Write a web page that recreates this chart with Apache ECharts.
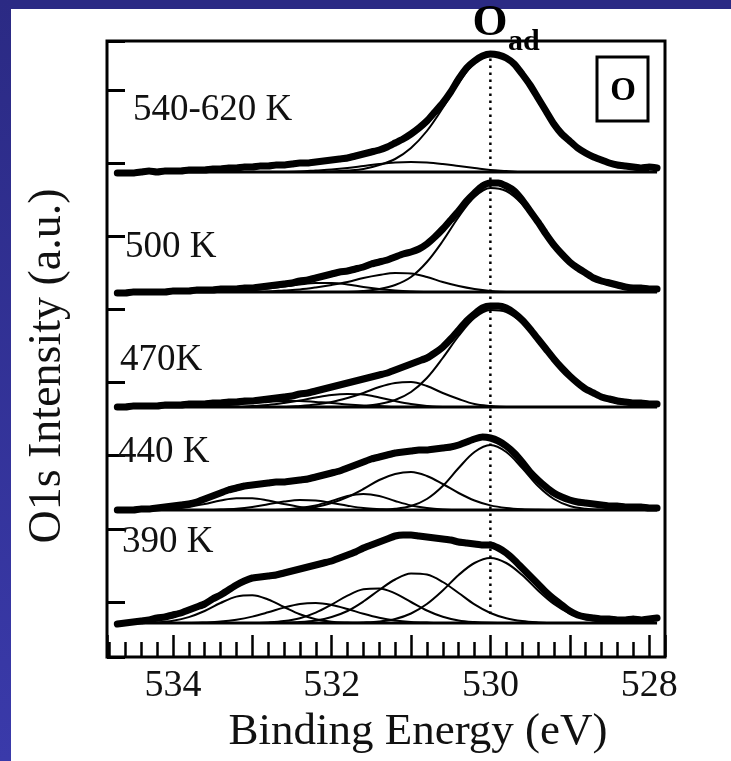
<!DOCTYPE html>
<html>
<head>
<meta charset="utf-8">
<script src="https://cdn.jsdelivr.net/npm/echarts@6/dist/echarts.min.js"></script>
<style>html,body{margin:0;padding:0;background:#fff}#chart{width:731px;height:761px}</style>
</head>
<body>
<div id="chart"></div>
<script>
// Binding energies of the measured spectra (eV)
const dataEnergy = [527.9,528.0,528.1,528.2,528.3,528.4,528.5,528.6,528.7,528.8,
  528.9,529.0,529.1,529.2,529.3,529.4,529.5,529.6,529.7,529.8,
  529.9,530.0,530.1,530.2,530.3,530.4,530.5,530.6,530.7,530.8,
  530.9,531.0,531.1,531.2,531.3,531.4,531.5,531.6,531.7,531.8,
  531.9,532.0,532.1,532.2,532.3,532.4,532.5,532.6,532.7,532.8,
  532.9,533.0,533.1,533.2,533.3,533.4,533.5,533.6,533.7,533.8,
  533.9,534.0,534.1,534.2,534.3,534.4,534.5,534.6,534.7];
// Energies of the fitted components (eV)
const fitEnergy = [528.0,528.2,528.4,528.6,528.8,529.0,529.2,529.4,529.6,529.8,
  530.0,530.2,530.4,530.6,530.8,531.0,531.2,531.4,531.6,531.8,
  532.0,532.2,532.4,532.6,532.8,533.0,533.2,533.4,533.6,533.8,
  534.0,534.2,534.4];
const baselineEnergy = [527.9, 534.7];

// Temperatures (labels) and vertical offsets of each stacked spectrum (a.u.)
const tempLabels = ['390 K', '440 K', '470K', '500 K', '540-620 K'];
const offsets = [-21, 92, 195, 310, 430];

// Measured O1s intensity above each baseline (a.u.)
const data390 = [5,4,3,4,3,3,4,4,5,6, 8,12,18,24,31,39,47,55,63,70, 75,78,78,79,80,81,83,84,85,86,
  87,88,88,87,84,81,78,75,71,68, 65,62,60,58,56,54,52,50,48,47, 46,45,42,38,33,28,24,19,16,13, 10,8,6,5,3,2,1,0,-1];
const data440 = [2,2,3,3,3,4,4,5,6,7, 8,10,13,17,23,30,38,48,57,64, 69,72,73,71,68,65,63,62,61,60,
  60,59,58,57,55,53,51,48,45,42, 39,37,35,33,31,30,29,28,28,27, 26,25,24,22,20,17,14,11,8,6, 5,4,3,2,1,1,0,0,0];
const data470 = [3,3,4,4,5,6,8,10,14,18, 24,31,39,48,58,68,78,87,94,99, 101,101,99,93,86,77,68,60,54,49,
  46,43,40,37,34,32,30,28,26,24, 22,20,18,16,14,13,11,10,9,8, 7,6,6,5,5,4,4,3,3,3, 2,2,2,1,1,1,1,0,0];
const data500 = [3,3,4,4,5,7,9,11,14,19, 24,30,38,47,58,70,81,92,101,106, 109,109,106,99,91,81,72,63,55,48,
  43,40,38,35,32,30,28,25,23,21, 20,18,16,14,12,11,9,8,7,6, 5,4,4,3,3,3,2,2,2,1, 1,1,0,0,0,0,0,-1,-1];
const data540 = [4,5,4,5,6,7,9,12,15,19, 24,31,38,48,61,74,87,98,108,114, 117,118,116,111,104,93,80,69,60,51,
  44,38,33,29,25,22,20,18,16,14, 13,12,11,10,9,9,8,7,7,6, 6,5,5,4,4,3,3,2,2,2, 1,1,1,0,1,0,-1,-1,-1];

// Fitted components (a.u.) on fitEnergy
const fit390 = [
  [0,0,0.5,1.5,4,9.5,19,32.5,48,60,65,60,48,32.5,19,9.5,4,1.5,0.5,0,0,0,0,0,0,0,0,0,0,0,0,0,0],
  [0,0,0,0,0,0,0,0.6,1.9,4.7,10,18.6,30,41,48.4,49.5,43.5,33,21.5,12,6,2.5,0.9,0.3,0,0,0,0,0,0,0,0,0],
  [0,0,0,0,0,0,0,0,0,0,0.2,0.9,2.5,6.2,12.5,21,29.6,34.6,33.7,27.4,18.4,10.3,4.8,1.9,0.6,0,0,0,0,0,0,0,0],
  [0,0,0,0,0,0,0,0,0,0,0,0,0,0,0.4,1.1,2.6,5.3,9.3,14,18,20,19,15.4,10.7,6.4,3.3,1.4,0.5,0,0,0,0],
  [0,0,0,0,0,0,0,0,0,0,0,0,0,0,0,0,0,0,0,0.4,1.3,3.8,8.7,16,23.5,27.8,26.4,20,12,5.9,2.3,0.7,0]
];
const fit440 = [
  [0,0,0,0.3,1.2,4,11,24,42,58,65,58,42,24,11,4,1.2,0.3,0,0,0,0,0,0,0,0,0,0,0,0,0,0,0],
  [0,0,0,0,0,0,0,0.2,0.7,2,4.6,9.5,17,26,34,38,36,30,21,13,7,3,1,0,0,0,0,0,0,0,0,0,0],
  [0,0,0,0,0,0,0,0,0,0,0,0,0,0.6,2,4.6,9,14,16,14,9,4.6,2,0.6,0,0,0,0,0,0,0,0,0],
  [0,0,0,0,0,0,0,0,0,0,0,0,0,0,0,0,0,0.8,2,4.3,7,9.4,10,8.4,5.7,3,1.3,0.5,0,0,0,0,0],
  [0,0,0,0,0,0,0,0,0,0,0,0,0,0,0,0,0,0,0,0,0.4,1.3,3.1,6,9.4,11.7,11.7,9.4,6,3.1,1.3,0.4,0]
];
const fit470 = [
  [1,2,5,9,17,29,46,66,84,95,97,89,71,49,29,15,7,3,1,0,0,0,0,0,0,0,0,0,0,0,0,0,0],
  [0,0,0,0,0,0,0,0,0,0,1,3,8,14,21,25,24,20,14,9,5,2.5,1,0,0,0,0,0,0,0,0,0,0],
  [0,0,0,0,0,0,0,0,0,0,0,0,0,0,1,3,6,9.5,12.5,13,12,9.5,6.5,4,2,1,0,0,0,0,0,0,0],
  [0,0,0,0,0,0,0,0,0,0,0,0,0,0,0,0,0,1,1.5,2.5,4,5,6,6,5,4,2.5,1.5,0.8,0.3,0,0,0]
];
const fit500 = [
  [1,3,6,10,18,29,45,67,88,101,104,95,75,51,30,15,7,3,1,0,0,0,0,0,0,0,0,0,0,0,0,0,0],
  [0,0,0,0,0,0,0,0,0,0,1,3,6,10,15,18.5,19,17,14,10,7,4.5,2.5,1.5,0.5,0,0,0,0,0,0,0,0],
  [0,0,0,0,0,0,0,0,0,0,0,0,0,0,0,0.5,1.5,3,5,7.5,9,9,7.5,5.5,3.5,2,1,0.5,0,0,0,0,0]
];
const fit540 = [
  [1,3,6,11,19,30,48,73,97,113,117,109,89,64,41,24,13,7,3,1.5,0.5,0,0,0,0,0,0,0,0,0,0,0,0],
  [0,0,0,0,0,0,0,0,0,1,2,4,6,8,9.5,10,9.5,8,6,4,2.5,1.5,0.5,0,0,0,0,0,0,0,0,0,0]
];

const measured = [data390, data440, data470, data500, data540];
const fitted = [fit390, fit440, fit470, fit500, fit540];

// O_ad reference energy and extent of its dotted guide (a.u.)
const oadEnergy = 530.0;
const oadRange = [-12, 548];

// x-axis tick labels shown
const xTickLabels = [528, 530, 532, 534];

const serif = '"Liberation Serif", "Times New Roman", serif';
const series = [];
fitted.forEach((comps, s) => {
  const off = offsets[s];
  series.push({
    type: 'line', silent: true, showSymbol: false, z: 3,
    data: baselineEnergy.map(e => [e, off]),
    lineStyle: {color: '#000', width: 3}
  });
  comps.forEach(c => {
    series.push({
      type: 'line', silent: true, showSymbol: false, smooth: 0.35, z: 3,
      data: fitEnergy.map((e, i) => [e, c[i] + off]),
      lineStyle: {color: '#000', width: 2}
    });
  });
});
measured.forEach((d, s) => {
  const off = offsets[s];
  series.push({
    type: 'line', silent: true, showSymbol: false, smooth: 0.2, z: 4,
    data: dataEnergy.map((e, i) => [e, d[i] + off]),
    lineStyle: {color: '#000', width: 7, cap: 'round', join: 'round'}
  });
});
series.push({
  type: 'line', silent: true, showSymbol: false, z: 2,
  data: oadRange.map(v => [oadEnergy, v]),
  lineStyle: {color: '#000', width: 2.5, type: [2.5, 4.5]}
});

// label placement (pixels) for the temperature captions
const labelPos = [[122, 542], [118, 452], [120, 360], [125, 247], [133, 110]];

const graphics = [
  {type: 'rect', shape: {x: 0, y: 0, width: 731, height: 9}, style: {fill: '#2b2a84'}, z: 10},
  {type: 'rect', shape: {x: 0, y: 0, width: 11, height: 761},
   style: {fill: {type: 'linear', x: 0, y: 0, x2: 0, y2: 1,
     colorStops: [{offset: 0, color: '#2b2a84'}, {offset: 1, color: '#3a3aaa'}]}}, z: 10},
  {type: 'rect', shape: {x: 597, y: 57, width: 51, height: 64}, style: {fill: '#fff', stroke: '#000', lineWidth: 3}, z: 10},
  {type: 'text', x: 623, y: 91, style: {text: 'O', font: 'bold 33px ' + serif, fill: '#000', align: 'center', verticalAlign: 'middle'}, z: 11},
  {type: 'text', x: 490, y: 23, style: {text: 'O', font: 'bold 45px ' + serif, fill: '#000', align: 'center', verticalAlign: 'middle'}, z: 11},
  {type: 'text', x: 508, y: 42, style: {text: 'ad', font: 'bold 30px ' + serif, fill: '#000', align: 'left', verticalAlign: 'middle'}, z: 11}
];
tempLabels.forEach((t, i) => {
  graphics.push({type: 'text', x: labelPos[i][0], y: labelPos[i][1],
    style: {text: t, font: '37px ' + serif, fill: '#111', align: 'left', verticalAlign: 'middle'}, z: 11});
});

const chart = echarts.init(document.getElementById('chart'), null, {renderer: 'canvas'});
chart.setOption({
  animation: false,
  backgroundColor: '#fff',
  grid: {left: 107, right: 66, top: 41, bottom: 104, show: true, borderColor: '#000', borderWidth: 3, containLabel: false},
  xAxis: {
    type: 'value', min: 527.8, max: 534.83, inverse: true, position: 'bottom',
    minInterval: 1, maxInterval: 1, splitNumber: 7,
    axisLine: {show: false, onZero: false},
    axisTick: {show: true, inside: true, length: 22, lineStyle: {color: '#000', width: 2.5}},
    minorTick: {show: true, splitNumber: 5, length: 15, lineStyle: {color: '#000', width: 2.5}},
    splitLine: {show: false}, minorSplitLine: {show: false},
    axisLabel: {
      margin: 10, fontFamily: serif, fontSize: 38, color: '#111',
      formatter: v => { const r = Math.round(v); return (Math.abs(v - r) < 1e-6 && xTickLabels.indexOf(r) >= 0) ? String(r) : ''; }
    },
    name: 'Binding Energy (eV)', nameLocation: 'middle', nameGap: 46,
    nameTextStyle: {fontFamily: serif, fontSize: 45, color: '#111', padding: [0, 0, 0, 64]}
  },
  yAxis: {
    type: 'value', min: -55, max: 561, minInterval: 73.14, maxInterval: 73.14, position: 'left',
    axisLine: {show: false, onZero: false},
    axisTick: {show: true, inside: true, length: 18, lineStyle: {color: '#000', width: 3}},
    axisLabel: {show: false},
    splitLine: {show: false},
    name: 'O1s Intensity (a.u.)', nameLocation: 'middle', nameRotate: 90, nameGap: 36,
    nameTextStyle: {fontFamily: serif, fontSize: 46, color: '#111', padding: [0, 34, 0, 0]}
  },
  graphic: graphics,
  series: series
});
</script>
</body>
</html>
